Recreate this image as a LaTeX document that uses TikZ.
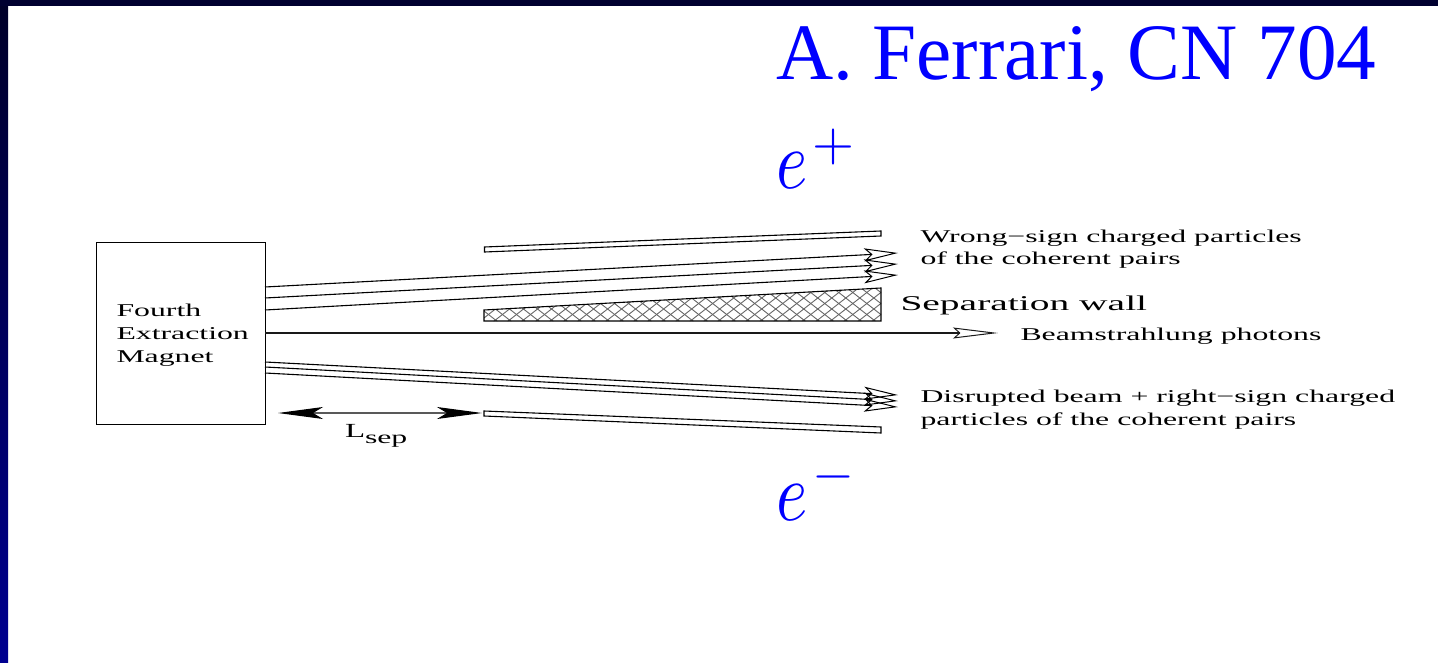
\documentclass[tikz,border=0pt]{standalone}
\usepackage{graphicx}
\usepackage{fontspec}
\setmainfont{Liberation Serif}
\usetikzlibrary{arrows.meta}
\definecolor{slideblue}{RGB}{0,0,255}
\definecolor{topbar}{RGB}{0,0,48}
\definecolor{bartop}{RGB}{0,0,40}
\definecolor{barbot}{RGB}{0,0,144}
\newcommand{\wide}[1]{\scalebox{1.765}[1]{#1}}
\tikzset{
  lbl/.style={anchor=base west,inner sep=0pt,outer sep=0pt,font=\fontsize{18}{20}\selectfont},
  title/.style={anchor=base west,inner sep=0pt,outer sep=0pt,text=slideblue,font=\fontsize{80}{90}\selectfont},
  charge/.style={anchor=base west,inner sep=0pt,outer sep=0pt,text=slideblue},
  part/.style={draw=black,line width=1.1pt},
  beam/.style={draw=black,line width=1.1pt,-{Stealth[open,length=34pt,width=13pt,inset=7pt,line width=1pt]}},
  photon/.style={draw=black!90,line width=1.2pt,-{Stealth[open,length=45pt,width=11pt,inset=6pt,line width=1pt]}},
  dim/.style={draw=black!65,line width=1.1pt,{Stealth[length=45pt,width=12pt,inset=10pt,black]}-{Stealth[length=45pt,width=12pt,inset=10pt,black]}}
}
\begin{document}
\begin{tikzpicture}[x=1pt,y=-1pt]
\useasboundingbox (0,0) rectangle (1438,663);
\fill[white] (0,0) rectangle (1438,663);
\shade[top color=bartop,bottom color=barbot] (0,0) rectangle (8,663);
\fill[topbar] (0,0) rectangle (1438,6);
% box
\node[draw=black,line width=.95pt,anchor=north west,outer sep=0pt,minimum width=169pt,minimum height=182pt,inner sep=0pt] (magnet) at (96,242) {};
\node[lbl] (m1) at (116.5,316) {\wide{Fourth}};
\node[lbl] (m2) at (116.5,339) {\wide{Extraction}};
\node[lbl] (m3) at (116.5,362) {\wide{Magnet}};
% coordinates
\coordinate (s1) at (265,287); \coordinate (t1) at (898,253);
\coordinate (s2) at (265,298); \coordinate (t2) at (898,264);
\coordinate (s3) at (265,310); \coordinate (t3) at (898,275);
\coordinate (s4) at (265,333); \coordinate (t4) at (998,333);
\coordinate (s5) at (265,362); \coordinate (t5) at (898,395);
\coordinate (s6) at (265,367); \coordinate (t6) at (898,401);
\coordinate (s7) at (265,373); \coordinate (t7) at (898,407);
\coordinate (d1) at (278,413); \coordinate (d2) at (482,413);
\draw[beam] (s1) -- (t1);
\draw[beam] (s2) -- (t2);
\draw[beam] (s3) -- (t3);
\draw[photon] (s4) -- (t4);
\draw[beam] (s5) -- (t5);
\draw[beam] (s6) -- (t6);
\draw[beam] (s7) -- (t7);
\draw[dim] (d1) -- (d2);
% slabs
\draw[part,fill=white] (484.5,247) -- (881,231) -- (881,236) -- (484.5,252) -- cycle;
\draw[part,fill=white] (484,411) -- (881,427) -- (881,433) -- (484,416) -- cycle;
% wall
\begin{scope}
\clip (484,310) -- (881,288) -- (881,321) -- (484,321) -- cycle;
\foreach \c in {0,11,...,374}{
  \draw[black!60,line width=.9pt] (484,{285+\c}) -- (884,{285+\c-314});
  \draw[black!60,line width=.9pt] (484,{-30+\c}) -- (884,{-30+\c+314});
}
\end{scope}
\draw[part] (484,310) -- (881,288) -- (881,321) -- (484,321) -- cycle;
% labels
\node[lbl] (a) at (920.5,243) {\wide{Wrong−sign charged particles}};
\node[lbl] (b) at (920.5,265) {\wide{of the coherent pairs}};
\node[lbl,font=\fontsize{21}{24}\selectfont] (c) at (900.5,310) {\scalebox{1.88}[1]{Separation wall}};
\node[lbl] (e) at (1020.5,340) {\wide{Beamstrahlung photons}};
\node[lbl] (f) at (920.5,402) {\wide{Disrupted beam + right−sign charged}};
\node[lbl] (g) at (920.5,425) {\wide{particles of the coherent pairs}};
\node[lbl,font=\fontsize{20}{24}\selectfont] (h) at (345,437) {\scalebox{1.65}[1]{L}};
\node[lbl] (i) at (365,443) {\wide{sep}};
% blue
\node[title] (t) at (776,80) {\scalebox{0.99}[1]{A. Ferrari, CN 704}};
\node[charge] (ep) at (776,189) {\scalebox{6.7}[8.3]{$e$}};
\node[charge] (epp) at (812,161) {\scalebox{5.4}{$+$}};
\node[charge] (em) at (776,520) {\scalebox{6.7}[8.3]{$e$}};
\node[charge] (emm) at (812,490) {\scalebox{5.4}{$-$}};
\end{tikzpicture}
\end{document}
